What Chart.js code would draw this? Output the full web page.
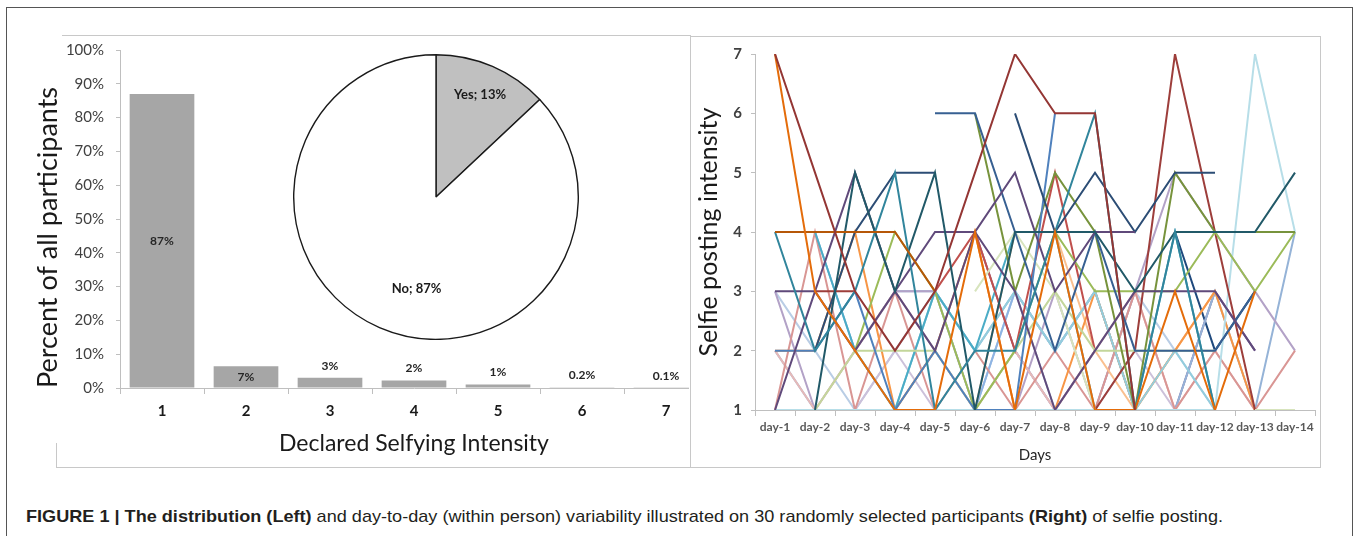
<!DOCTYPE html>
<html>
<head>
<meta charset="utf-8">
<script src="https://cdn.jsdelivr.net/npm/chart.js"></script>
<style>
  body { margin: 0; background: #fff; width: 1357px; height: 536px; overflow: hidden; position: relative; font-family: Lato, sans-serif; }
  .outer { position: absolute; left: 6px; top: 7px; width: 1345px; height: 560px; border: 1.5px solid #555; }
  .hl { position: absolute; height: 0; border-top: 1.5px solid #c8c8c8; }
  .vl { position: absolute; width: 0; border-left: 1.5px solid #c8c8c8; }
  #bar-wrap { position: absolute; left: 0; top: 0; width: 689px; height: 470px; overflow: hidden; }
  #pie-canvas { position: absolute; left: 293px; top: 54px; }
  #line-canvas { position: absolute; left: 690px; top: 36px; }
  #caption { position: absolute; left: 26px; top: 508px; white-space: nowrap; font-family: "Liberation Sans Narrow", "Arial Narrow", "Liberation Sans", sans-serif; font-size: 17px; line-height: 17px; color: #231f20; transform-origin: 0 0; }
</style>
</head>
<body>
<div class="outer"></div>
<div class="hl" style="left:62px; top:35px; width:628px;"></div>
<div class="vl" style="left:56px; top:443px; height:24px;"></div>
<div class="hl" style="left:56px; top:467px; width:634px;"></div>
<div class="vl" style="left:690px; top:35px; height:432px;"></div>
<div class="hl" style="left:690px; top:36px; width:630px;"></div>
<div class="vl" style="left:1320px; top:36px; height:431px;"></div>
<div class="hl" style="left:690px; top:467px; width:631px;"></div>

<div id="bar-wrap"><canvas id="bar-canvas" width="708" height="470"></canvas></div>
<canvas id="pie-canvas" width="286" height="286"></canvas>
<canvas id="line-canvas" width="630" height="430"></canvas>

<div id="caption"><b>FIGURE 1 | The distribution (Left)</b> and day-to-day (within person) variability illustrated on 30 randomly selected participants <b>(Right)</b> of selfie posting.</div>

<script>
// left: declared selfying intensity
const intensityLevels = ['1', '2', '3', '4', '5', '6', '7'];
const intensityShare = [87, 6.4, 3, 2.2, 1, 0.2, 0.1];
const intensityLabels = ['87%', '7%', '3%', '2%', '1%', '0.2%', '0.1%'];

// inset pie: does the person post selfies
const pieLabels = ['Yes', 'No'];
const pieValues = [13, 87];

// right: 30 participants over 14 days
const days = ['day-1', 'day-2', 'day-3', 'day-4', 'day-5', 'day-6', 'day-7', 'day-8', 'day-9', 'day-10', 'day-11', 'day-12', 'day-13', 'day-14'];
const p01 = [7, 5, 3, 2, 3, 5, 7, 6, 6, 1, null, null, null, null];
const p02 = [7, 3, 2, 1, 1, 4, 1, 4, 1, 1, 3, 1, 3, null];
const p03 = [4, 4, 4, 4, 3, null, null, null, null, null, null, null, null, null];
const p04 = [4, 2, 3, 5, 1, 2, 2, 4, 6, 1, 4, 1, null, null];
const p05 = [null, 1, 5, 3, 5, 1, 4, 4, 4, 3, 4, 4, 4, 5];
const p06 = [3, 3, 2, 3, 2, 4, 5, 3, 4, 4, null, null, null, null];
const p07 = [1, 3, 5, 3, 4, 4, 3, 1, 2, 3, 3, 3, 2, null];
const p08 = [null, 2, 4, 5, 5, null, 6, 4, 5, 4, 5, 5, null, null];
const p09 = [null, null, null, null, 6, 6, 4, 2, 4, 2, 2, 2, 3, null];
const p10 = [2, 2, 3, 1, 2, 1, 1, 6, null, null, null, null, null, null];
const p11 = [null, null, null, null, null, 6, 3, 5, 4, 1, 5, 4, 4, 4];
const p12 = [null, null, 2, 4, 3, 1, 2, 4, 3, 3, 3, 4, 3, 4];
const p13 = [null, 1, 2, 2, 2, 1, 2, 3, 2, 2, 2, 2, null, null];
const p14 = [null, null, null, null, null, 3, 4, 3, 1, null, null, null, 1, 1];
const p15 = [null, null, null, null, 3, 4, 2, 5, 2, null, null, null, null, null];
const p16 = [null, 3, 3, null, null, null, null, null, 1, 2, 7, 4, 1, null];
const p17 = [null, 4, 2, 1, 3, 2, 4, 4, 1, 1, 4, 1, null, null];
const p18 = [null, null, null, 1, 3, 2, 3, 2, 3, 1, 2, 1, null, null];
const p19 = [1, 1, 1, 1, 1, 1, 1, 1, 1, 1, 1, 1, 7, 4];
const p20 = [2, 2, 4, 1, 2, 4, 1, 1, 3, 1, 2, 3, 1, null];
const p21 = [null, null, null, 1, 2, 1, 4, 4, 2, 1, 2, 3, null, null];
const p22 = [1, 4, 1, 3, 1, 2, 1, 2, 1, 3, 1, 2, 1, 2];
const p23 = [2, 1, 2, 3, 2, 1, 2, 1, 2, 3, 1, 2, 1, null];
const p24 = [3, 1, 2, 3, 3, 1, 1, 3, 1, 3, 5, 4, 3, 2];
const p25 = [null, null, 1, 2, 1, 1, 2, 1, 1, 2, 1, 1, null, null];
const p26 = [2, 1, null, 3, 3, 2, 3, 2, 3, 1, 1, 3, 1, 4];
const p27 = [null, null, null, null, 4, 4, 2, 1, 2, null, 1, 3, 2, null];
const p28 = [null, 4, 2, 1, 2, 1, 3, 2, 3, 1, null, null, null, null];
const p29 = [null, null, null, null, null, null, null, null, null, null, 4, 2, 3, null];
const p30 = [3, 2, 1, 2, 3, 1, 3, 1, 1, 3, 2, 1, null, null];
const participants = [p01, p02, p03, p04, p05, p06, p07, p08, p09, p10, p11, p12, p13, p14, p15,
    p16, p17, p18, p19, p20, p21, p22, p23, p24, p25, p26, p27, p28, p29, p30];
const lineColors = ['#943634', '#e46c0a', '#b65708', '#31859c', '#215968', '#5f497a', '#604a7b', '#2c4d75',
    '#376092', '#4f81bd', '#77933c', '#9bbb59', '#c3d69b', '#d7e4bd', '#c0504d', '#9d3e3b', '#4bacc6',
    '#93cddd', '#b7dee8', '#f79646', '#fac090', '#d99694', '#e6b9b8', '#b3a2c7', '#ccc1da', '#95b3d7',
    '#8064a2', '#8eb4e3', '#1f497d', '#b9cde5'];

const axisGray = '#bfbfbf';

const barLabelPlugin = {
    id: 'barLabels',
    afterDatasetsDraw(chart) {
        const ctx = chart.ctx;
        const meta = chart.getDatasetMeta(0);
        ctx.save();
        ctx.font = 'bold 12px Lato';
        ctx.fillStyle = '#262626';
        ctx.textAlign = 'center';
        ctx.textBaseline = 'middle';
        meta.data.forEach((bar, i) => {
            // big bars get the label inside, small ones just above
            const y = intensityShare[i] > 5 ? (bar.y + bar.base) / 2 : bar.y - 12;
            ctx.fillText(intensityLabels[i], bar.x, y);
        });
        ctx.restore();
    }
};

new Chart(document.getElementById('bar-canvas'), {
    type: 'bar',
    data: {
        labels: intensityLevels,
        datasets: [{
            data: intensityShare,
            backgroundColor: '#a6a6a6',
            borderWidth: 0,
            barPercentage: 0.77,
            categoryPercentage: 1
        }]
    },
    options: {
        responsive: false,
        animation: false,
        layout: { padding: { top: 50, left: 0, right: 0, bottom: 0 } },
        plugins: { legend: { display: false }, tooltip: { enabled: false } },
        scales: {
            x: {
                afterFit: (s) => { s.height = 82; },
                grid: { offset: true, drawOnChartArea: false, tickLength: 6, color: axisGray },
                border: { color: axisGray },
                ticks: { color: '#1a1a1a', padding: 8, font: { family: 'Lato', size: 15, weight: 'bold' } },
                title: {
                    display: true, text: 'Declared Selfying Intensity', color: '#1a1a1a',
                    font: { family: 'Lato', size: 23 }, padding: { top: 0, bottom: 13 }
                }
            },
            y: {
                min: 0, max: 100,
                afterFit: (s) => { s.width = 120; },
                grid: { drawOnChartArea: false, tickLength: 4, color: axisGray },
                border: { color: axisGray },
                ticks: {
                    stepSize: 10, color: '#404040', padding: 12,
                    font: { family: 'Lato', size: 15 },
                    callback: (v) => v + '%'
                },
                title: {
                    display: true, text: 'Percent of all participants', color: '#1a1a1a', align: 'start',
                    font: { family: 'Lato', size: 27 }, padding: { top: 32, bottom: 0 }
                }
            }
        }
    },
    plugins: [barLabelPlugin]
});

const pieLabelPlugin = {
    id: 'pieLabels',
    afterDatasetsDraw(chart) {
        const ctx = chart.ctx;
        const meta = chart.getDatasetMeta(0);
        const place = [{ f: 0.78, shift: 0 }, { f: 0.66, shift: -0.2 }];
        ctx.save();
        ctx.font = 'bold 13px Lato';
        ctx.fillStyle = '#1a1a1a';
        ctx.textAlign = 'center';
        ctx.textBaseline = 'middle';
        meta.data.forEach((arc, i) => {
            const a = (arc.startAngle + arc.endAngle) / 2 + place[i].shift;
            const r = arc.outerRadius * place[i].f;
            ctx.fillText(pieLabels[i] + '; ' + pieValues[i] + '%', arc.x + Math.cos(a) * r, arc.y + Math.sin(a) * r);
        });
        ctx.restore();
    }
};

new Chart(document.getElementById('pie-canvas'), {
    type: 'pie',
    data: {
        labels: pieLabels,
        datasets: [{
            data: pieValues,
            backgroundColor: ['#c0c0c0', '#ffffff'],
            borderColor: '#1a1a1a',
            borderWidth: 1.4
        }]
    },
    options: {
        responsive: false,
        animation: false,
        plugins: { legend: { display: false }, tooltip: { enabled: false } }
    },
    plugins: [pieLabelPlugin]
});

new Chart(document.getElementById('line-canvas'), {
    type: 'line',
    data: {
        labels: days,
        datasets: participants.map((vals, i) => ({
            data: vals,
            borderColor: lineColors[i],
            borderWidth: 2,
            pointRadius: 0,
            tension: 0,
            spanGaps: false
        }))
    },
    options: {
        responsive: false,
        animation: false,
        layout: { padding: { top: 14, left: 0, right: 5, bottom: 0 } },
        plugins: { legend: { display: false }, tooltip: { enabled: false } },
        scales: {
            x: {
                offset: true,
                afterFit: (s) => { s.height = 56; },
                grid: { offset: true, drawOnChartArea: false, tickLength: 6, color: axisGray },
                border: { color: axisGray },
                ticks: { color: '#595959', padding: 4, maxRotation: 0, autoSkip: false, font: { family: 'Lato', size: 12, weight: 'bold' } },
                title: {
                    display: true, text: 'Days', color: '#262626',
                    font: { family: 'Lato', size: 15 }, padding: { top: 0, bottom: 2 }
                }
            },
            y: {
                min: 1, max: 7,
                afterFit: (s) => { s.width = 65; },
                grid: { drawOnChartArea: false, tickLength: 4, color: axisGray },
                border: { color: axisGray },
                ticks: { stepSize: 1, color: '#404040', padding: 9, font: { family: 'Lato', size: 15, weight: 'bold' } },
                title: {
                    display: true, text: 'Selfie posting intensity', color: '#1a1a1a',
                    font: { family: 'Lato', size: 25 }, padding: { top: 4, bottom: 0 }
                }
            }
        }
    }
});

// squeeze the caption to the width it has in the figure
const caption = document.getElementById('caption');
const capWidth = caption.getBoundingClientRect().width;
caption.style.transform = 'scaleX(' + (1197 / capWidth) + ')';
</script>
</body>
</html>
